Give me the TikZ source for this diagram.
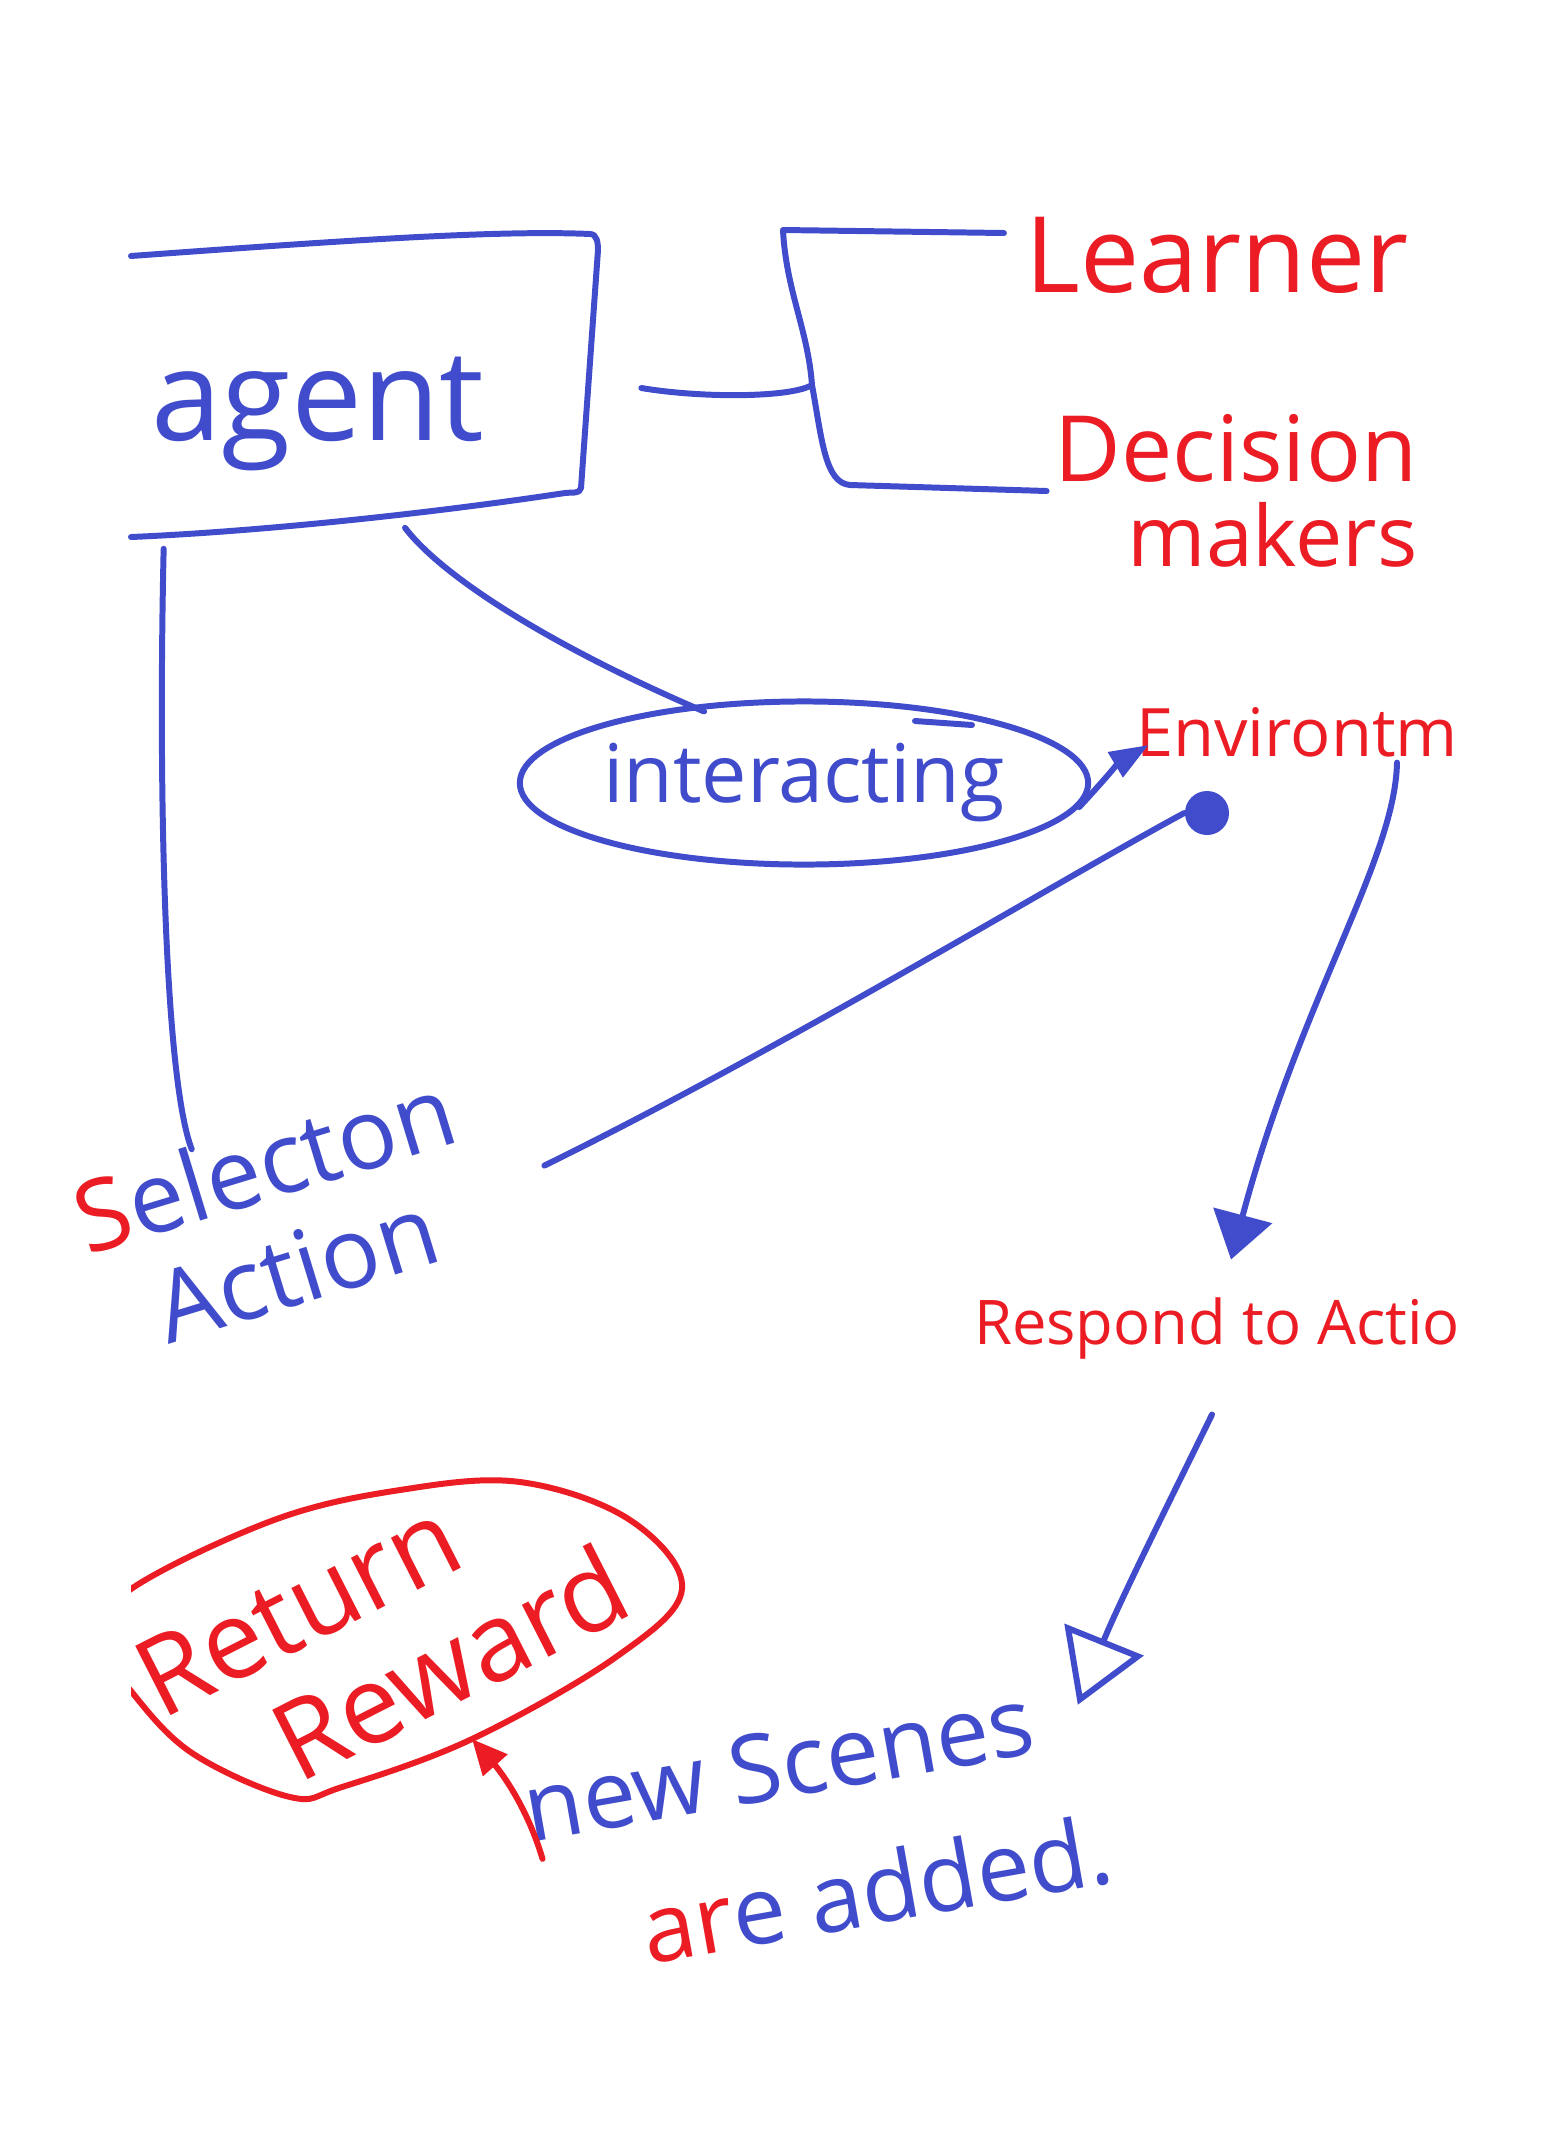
\documentclass[tikz,border=0pt]{standalone}
\usepackage{fontspec}
\setmainfont{Open Sans}
\usetikzlibrary{arrows.meta, positioning, calc, shapes.geometric}
\definecolor{penblue}{RGB}{64,76,204}
\definecolor{penred}{RGB}{236,28,36}

\begin{document}
\begin{tikzpicture}[
    x=0.01cm, y=-0.01cm,
    % pen styles
    pen/.style={draw=penblue, line width=1.7pt, line cap=round, line join=round},
    red_pen/.style={draw=penred, line width=1.7pt, line cap=round, line join=round},
    blue_text/.style={text=penblue, inner sep=2pt},
    red_text/.style={text=penred, inner sep=2pt},
    agent_box/.style={minimum width=4.67cm, minimum height=2.64cm, inner sep=0pt},
    bubble/.style={pen, ellipse, minimum width=5.48cm, minimum height=1.63cm, inner sep=0pt},
    fill_arrow/.style={pen, -{Triangle[length=11pt, width=8pt]}},
    big_arrow/.style={pen, -{Triangle[length=13pt, width=17pt]}},
    open_arrow/.style={pen, -{Triangle[open, length=20pt, width=24pt]}},
    red_arrow/.style={red_pen, -{Triangle[length=10pt, width=9pt]}}
]
    \fill[white] (0,0) rectangle (1553,2148);
    \useasboundingbox (0,0) rectangle (1553,2148);

    % --- 1. AGENT (open box) ---
    \node[agent_box] (agent) at (365,388) {};
    \node[blue_text, font=\fontsize{36}{40}\selectfont] (agent_lbl) at (318,414) {agent};
    \draw[pen] (131,256) .. controls (350,240) and (500,230) .. (590,234)
        to[out=0, in=90] (598,250) -- (581,488) to[out=-100, in=10] (565,493)
        .. controls (420,515) and (250,532) .. (131,537);

    % --- 2. LEARNER / DECISION MAKERS ---
    \node[red_text, font=\fontsize{30}{32}\selectfont] (learner) at (1217,255) {Learner};
    \node[red_text, align=center, font=\fontsize{26}{24}\selectfont] (decision) at (1236,491)
        {Decision\\\hspace*{0.8em}{\fontsize{24}{24}\selectfont makers}};

    \coordinate (br_top) at (783,230);
    \coordinate (br_mid) at (812,385);
    \coordinate (br_bot) at (850,485);
    \draw[pen] ($(learner.west)+(-14,-22)$) -- (br_top)
        .. controls (786,290) and (808,330) .. (br_mid)
        .. controls (822,440) and (825,483) .. (br_bot) -- (decision.west);
    \draw[pen] ($(agent.east)+(42,0)$) .. controls (700,398) and (790,398) .. (br_mid);

    % --- 3. INTERACTING ---
    \node[bubble, text=penblue, font=\fontsize{23}{26}\selectfont] (interact) at (804,783) {interacting};
    \draw[pen] (915,721) -- (972,725);
    \draw[pen] ($(agent.south)+(40,7)$) .. controls (445,580) and (560,650) .. ($(interact.north)+(-100,13)$);

    % --- 4. ENVIRONMENT ---
    \node[red_text, font=\fontsize{19}{22}\selectfont] (env) at (1297,732) {Environtm};
    \node[circle, fill=penblue, minimum size=0.44cm, inner sep=0pt] (env_dot) at (1207,813) {};
    \draw[fill_arrow] (interact.-5) .. controls (1095,790) and (1120,762) .. ($(env.west)+(20,13)$);

    % --- 5. SELECTION ---
    \node[blue_text, align=center, rotate=17, font=\fontsize{28}{31}\selectfont] (select_act) at (280,1215)
        {\textcolor{penred}{S}electon\\Action};
    \draw[pen] ($(agent.south west)+(33,28)$) .. controls (158,800) and (165,1080) .. ($(select_act.north)+(-59,30)$);
    \draw[pen] ($(select_act.east)+(70,10)$) .. controls (780,1050) and (1060,880) .. (env_dot.west);

    % --- 6. RESPOND ---
    \node[red_text, font=\fontsize{17.5}{20}\selectfont] (respond) at (1217,1328) {Respond to Actio};
    \draw[big_arrow] ($(env.south)+(100,-2)$) .. controls (1395,860) and (1300,1000) .. ($(respond.north)+(14,-30)$);

    % --- 7. RETURN REWARD (clipped at the left edge) ---
    \begin{scope}
        \clip (131,0) rectangle (1553,2148);
        \draw[red_pen] plot[smooth cycle, tension=0.6] coordinates {(131,1589) (274,1520) (400,1490) (520,1482)
            (630,1520) (682,1589) (616,1657) (472,1739) (342,1787) (290,1797) (192,1753) (131,1691) (100,1640)};
    \end{scope}
    \node[red_text, align=left, rotate=27, font=\fontsize{31}{34}\selectfont] (reward) at (382,1632)
        {Return\\\hspace*{0.85em}Reward};
    \coordinate (reward_tip) at (472,1739);

    % --- 8. NEW SCENES ---
    \node[blue_text, align=left, rotate=10, font=\fontsize{27}{40}\selectfont] (scenes) at (818,1829)
        {new Scenes\\\hspace*{1em}\textcolor{penred}{ar}e added.};
    \draw[open_arrow] ($(respond.south)+(-5,48)$) .. controls (1185,1470) and (1120,1600) .. ($(scenes.north east)+(-9,38)$);
    \draw[red_arrow] ($(scenes.west)+(13,-21)$) .. controls (525,1800) and (495,1765) .. (reward_tip);

\end{tikzpicture}
\end{document}
